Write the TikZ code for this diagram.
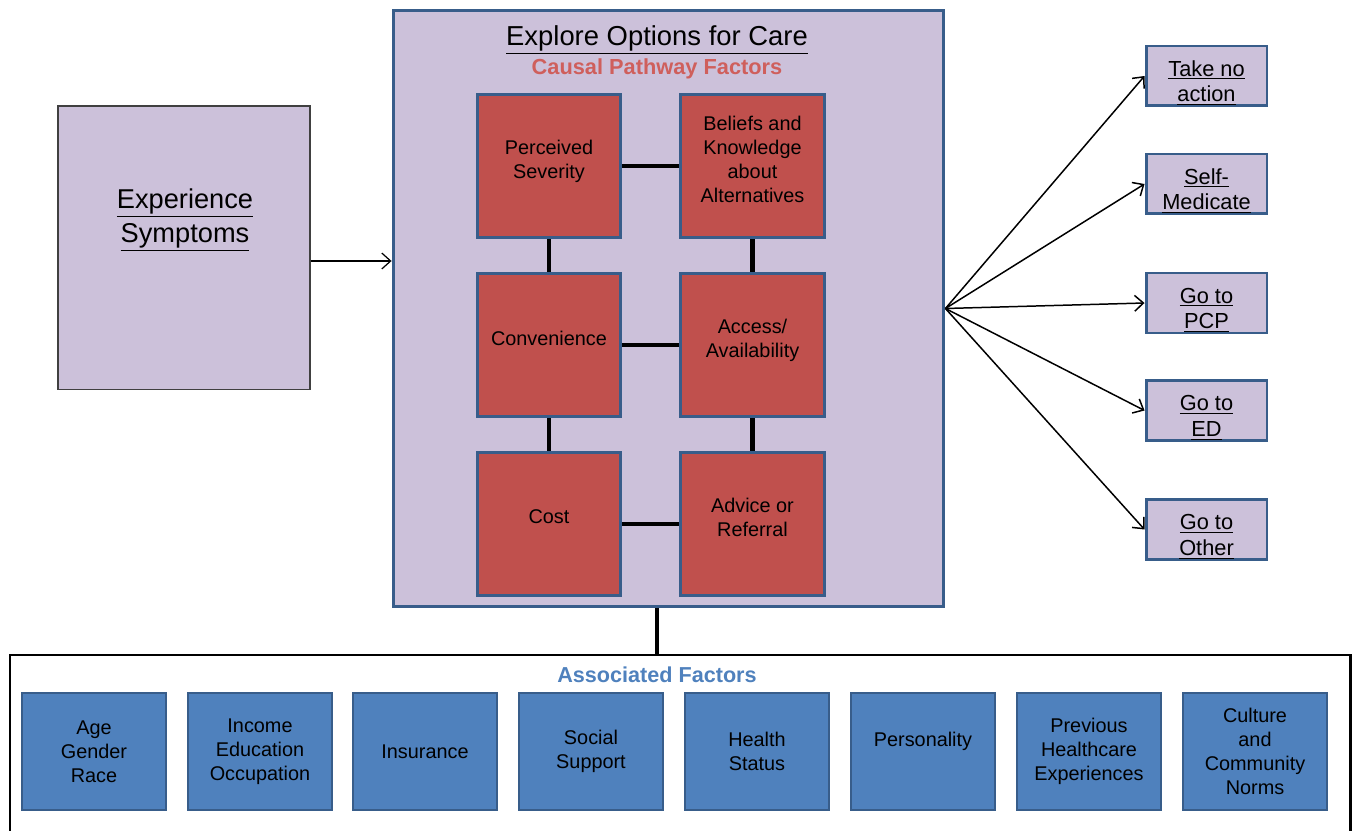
\documentclass[tikz,border=0pt]{standalone}
\usepackage{fontspec}
\setmainfont{Liberation Sans}
\usetikzlibrary{arrows.meta}
\definecolor{lav}{HTML}{CCC1DA}
\definecolor{redfill}{HTML}{C0504D}
\definecolor{bluefill}{HTML}{4F81BD}
\definecolor{edge}{HTML}{385D8A}
\definecolor{causal}{HTML}{CF5F5C}
\newcommand{\ulin}[1]{\underline{#1}}
\newcommand{\lowr}{\rule{0pt}{17pt}}

\begin{document}
\begin{tikzpicture}[x=0.02cm, y=-0.02cm,
    every node/.style={font=\fontsize{11.3}{13.6}\selectfont, align=center},
    pathway/.style={rectangle, draw=edge, line width=1.7pt, fill=redfill, minimum width=2.88cm, minimum height=2.88cm, inner sep=1pt,
        execute at end node={\rule[-8pt]{0pt}{0pt}}},
    outcome/.style={rectangle, draw=edge, line width=1.7pt, fill=lav, minimum width=2.42cm, minimum height=1.2cm, inner sep=0pt, font=\fontsize{12.4}{14.7}\selectfont},
    assoc/.style={rectangle, draw=edge, line width=1.1pt, fill=bluefill, minimum width=2.88cm, minimum height=2.34cm, inner sep=1pt},
    link/.style={line width=2.3pt},
    fan/.style={line width=0.85pt, -{Straight Barb[length=5pt,width=9pt]}}]
    \useasboundingbox (0,0) rectangle (1356,831);

    % symptoms
    \node[rectangle, draw=black!75, line width=0.6pt, fill=lav, minimum width=5.04cm, minimum height=5.68cm] (sym) at (184,248) {};
    \node[font=\fontsize{15.5}{19.3}\selectfont] (symtxt) at (185,220) {\ulin{Experience}\\\ulin{Symptoms}};

    % explore options
    \node[rectangle, draw=edge, line width=1.7pt, fill=lav, minimum width=11.02cm, minimum height=11.94cm] (explore) at (668.5,308.5) {};
    \node[font=\fontsize{15.6}{18}\selectfont] (title) at (657,40) {\ulin{Explore Options for Care}};
    \node[font=\bfseries\fontsize{12.4}{14}\selectfont, text=causal] (causal) at (657,69) {Causal Pathway Factors};

    \node[pathway] (sev) at (549,166) {Perceived\\Severity};
    \node[pathway] (belief) at (752.5,166) {Beliefs and\\Knowledge\\about\\Alternatives};
    \node[pathway] (conv) at (549,345) {Convenience};
    \node[pathway] (access) at (752.5,345) {Access/\\Availability};
    \node[pathway] (cost) at (549,524) {Cost};
    \node[pathway] (advice) at (752.5,524) {Advice or\\Referral};

    \draw[link] (sev.east) -- (belief.west);
    \draw[link] (conv.east) -- (access.west);
    \draw[link] (cost.east) -- (advice.west);
    \draw[link] (sev.south) -- (conv.north);
    \draw[link] (conv.south) -- (cost.north);
    \draw[link] (belief.south) -- (access.north);
    \draw[link] (access.south) -- (advice.north);

    \draw[fan, line width=0.7pt] ([yshift=-0.26cm]sym.east) -- ([yshift=-0.26cm]sym.east -| explore.west);

    % outcomes
    \node[outcome] (none) at (1206.5,76) {\lowr\ulin{Take no}\\\ulin{action}};
    \node[outcome] (self) at (1206.5,184) {\lowr\ulin{Self-}\\\ulin{Medicate}};
    \node[outcome] (pcp) at (1206.5,303) {\lowr\ulin{Go to}\\\ulin{PCP}};
    \node[outcome] (ed) at (1206.5,410.5) {\lowr\ulin{Go to}\\\ulin{ED}};
    \node[outcome] (other) at (1206.5,529.5) {\lowr\ulin{Go to}\\\ulin{Other}};
    \foreach \o in {none,self,pcp,ed,other}
        \draw[fan] (explore.east) -- (\o.west);

    % associated factors
    \coordinate (assoctop) at (657,655);
    \draw[line width=1.7pt] (10,831) -- (10,655) -- (1350,655) -- (1350,831);
    \draw[link] (explore.south -| assoctop) -- (assoctop);
    \node[font=\bfseries\fontsize{12.3}{14}\selectfont, text=bluefill] (assoclabel) at (657,675) {Associated Factors};

    \node[assoc] (age) at (94,751.5) {Age\\Gender\\Race};
    \node[assoc] (income) at (260,751.5) {Income\\Education\\Occupation};
    \node[assoc] (insur) at (425,751.5) {Insurance};
    \node[assoc] (social) at (591,751.5) {Social\\Support};
    \node[assoc] (health) at (757,751.5) {Health\\Status};
    \node[assoc] (person) at (923,751.5) {\raisebox{0.48cm}{Personality}};
    \node[assoc] (prev) at (1089,751.5) {Previous\\Healthcare\\Experiences};
    \node[assoc] (culture) at (1255,751.5) {Culture\\and\\Community\\Norms};
\end{tikzpicture}
\end{document}
